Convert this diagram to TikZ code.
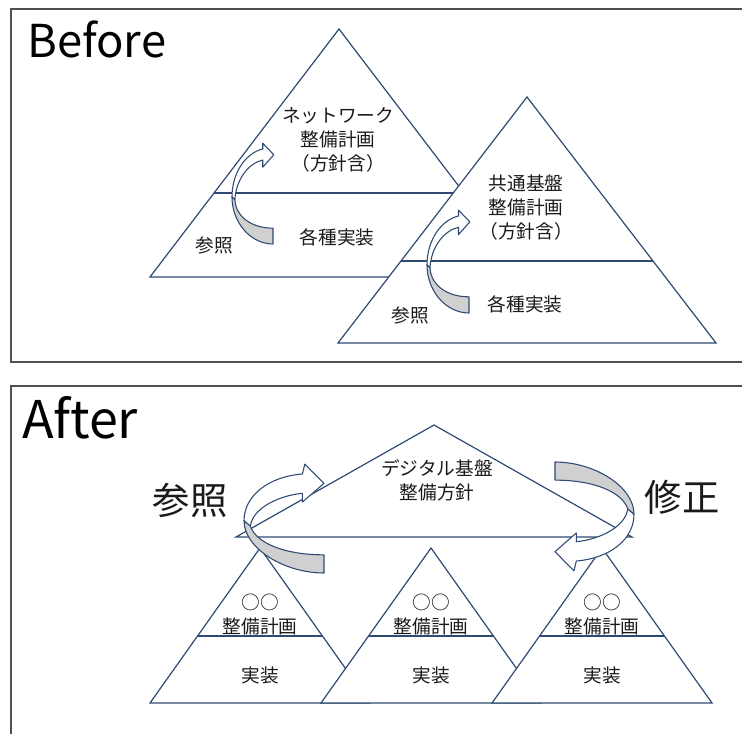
\documentclass[tikz,border=0pt]{standalone}
\usepackage{fontspec}
\setmainfont{Noto Sans CJK JP}
\definecolor{navy}{HTML}{2F4A72}
\definecolor{shade}{HTML}{D0D0D0}
\definecolor{ink}{HTML}{1A1A1A}
\definecolor{framec}{HTML}{505050}
\tikzset{
  tri/.style={draw=navy, line width=0.9pt, fill=white, line join=miter},
  divline/.style={draw=navy, line width=0.9pt},
  frame/.style={draw=framec, line width=1.2pt},
  arr/.style={draw=navy, line width=0.8pt, line join=round},
  jp/.style={text=ink, font=\fontsize{14}{18}\selectfont, align=center, inner sep=0pt},
  bigjp/.style={text=ink, font=\fontsize{28}{32}\selectfont, inner sep=0pt},
  title/.style={text=black, inner sep=0pt, anchor=base west},
}
\newcommand{\beforearrowshape}{%
  \filldraw[arr, fill=white] (-1,0.02) .. controls (-1,-0.5) and (-0.65,-0.9) .. (-0.25,-0.98)
    -- (-0.25,-1.1) -- (0.02,-0.86) -- (-0.25,-0.6) -- (-0.25,-0.75)
    .. controls (-0.6,-0.68) and (-0.9,-0.35) .. (-0.93,0.08) -- cycle;
  \filldraw[arr, fill=shade] (-1,0.02) .. controls (-1,0.55) and (-0.55,1) .. (0,1)
    -- (0,0.67) .. controls (-0.5,0.67) and (-0.9,0.45) .. (-0.93,0.08) -- cycle;
}
\newcommand{\afterarrowshape}{%
  \filldraw[arr, fill=white] (-1,0.05) .. controls (-1,-0.4) and (-0.7,-0.75) .. (-0.27,-0.8)
    -- (-0.24,-0.98) -- (0,-0.63) -- (-0.27,-0.29) -- (-0.27,-0.45)
    .. controls (-0.6,-0.4) and (-0.9,-0.15) .. (-0.92,0.15) -- cycle;
  \filldraw[arr, fill=shade] (-1,0.05) .. controls (-1,0.55) and (-0.5,1) .. (0,1)
    -- (0,0.67) .. controls (-0.5,0.67) and (-0.85,0.45) .. (-0.92,0.15) -- cycle;
}
\begin{document}
\begin{tikzpicture}[x=0.75pt,y=-0.75pt]
\useasboundingbox (0,0) rectangle (742,734);
% frames
\draw[frame] (743,9) -- (11,9) -- (11,362) -- (743,362);
\draw[frame] (743,386) -- (11,386) -- (11,735);
\node[title, font=\fontsize{34}{40}\selectfont] (tbefore) at (27,58) {Before};
\node[title, font=\fontsize{39}{44}\selectfont] (tafter) at (22,438) {After};

% ---------- Before ----------
\filldraw[tri] (339,29) -- (528,277) -- (150,277) -- cycle;
\draw[divline] (214,193) -- (464,193);
\node[jp] (b1top) at (338,140) {ネットワーク\\整備計画\\（方針含）};
\node[jp] (b1impl) at (337,237) {各種実装};
\node[jp] (b1ref) at (214,245) {参照};
\begin{scope}[shift={(273,196)}, xscale=41, yscale=48]\beforearrowshape\end{scope}

\filldraw[tri] (527,97) -- (716,343) -- (338,343) -- cycle;
\draw[divline] (401,261) -- (653,261);
\node[jp] (b2top) at (526,208) {共通基盤\\整備計画\\（方針含）};
\node[jp] (b2impl) at (525,304) {各種実装};
\node[jp] (b2ref) at (410,315) {参照};
\begin{scope}[shift={(469,264)}, xscale=42, yscale=49]\beforearrowshape\end{scope}

% ---------- After ----------
\filldraw[tri] (434,425) -- (632,537) -- (236,537) -- cycle;
\node[jp] (apolicy) at (437,480) {デジタル基盤\\整備方針};
\foreach \a/\n in {260/l,431/m,602/r}{
  \filldraw[tri] (\a,548) -- ({\a+110},703) -- ({\a-110},703) -- cycle;
  \draw[divline] ({\a-62},636) -- ({\a+62},636);
  \node[jp] (cir\n) at (\a,602) {○○};
  \node[jp] (plan\n) at (\a,626) {整備計画};
  \node[jp] (impl\n) at (\a,675) {実装};
}
\begin{scope}[shift={(324,518)}, xscale=80, yscale=55]\afterarrowshape\end{scope}
\begin{scope}[shift={(555,517)}, rotate=180, xscale=79, yscale=55]\afterarrowshape\end{scope}
\node[bigjp] (aref) at (190,500) {参照};
\node[bigjp] (afix) at (682,497) {修正};
\end{tikzpicture}
\end{document}
